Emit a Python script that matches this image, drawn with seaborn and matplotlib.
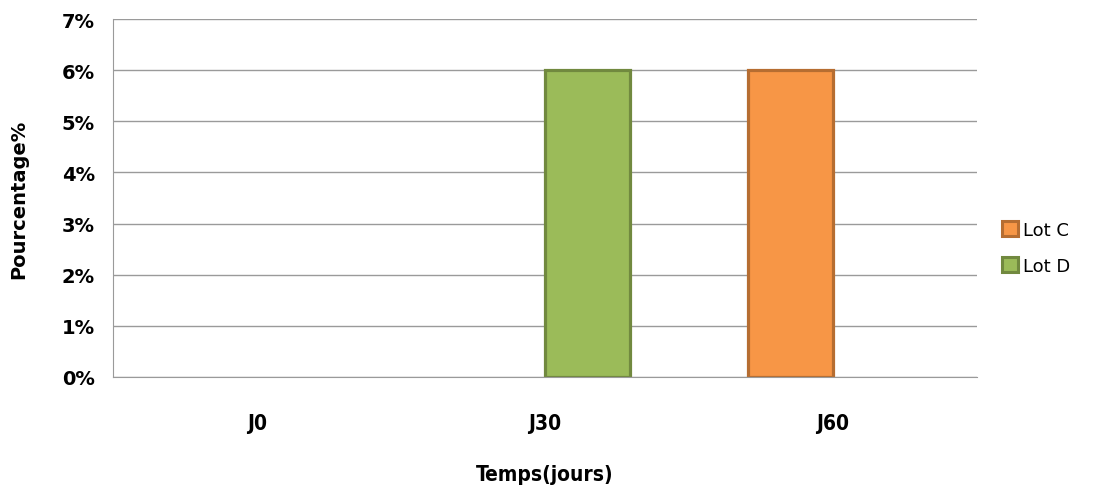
import pandas as pd
import matplotlib.pyplot as plt
import seaborn as sns
from matplotlib.ticker import FuncFormatter
from matplotlib.patches import Patch

# Data
categories = ['J0', 'J30', 'J60']
lot_c = [0, 0, 6]
lot_d = [0, 6, 0]
series_names = ['Lot C', 'Lot D']

df = pd.DataFrame({
    'Temps': categories * 2,
    'Lot': [series_names[0]] * 3 + [series_names[1]] * 3,
    'Pourcentage': lot_c + lot_d,
})

fills = {'Lot C': '#F79646', 'Lot D': '#9BBB59'}
edges = {'Lot C': '#B66D31', 'Lot D': '#71893F'}

sns.set_style("white")
plt.rcParams['font.family'] = ['DejaVu Sans']
plt.rcParams['text.color'] = 'black'
plt.rcParams['axes.labelcolor'] = 'black'
plt.rcParams['xtick.color'] = 'black'
plt.rcParams['ytick.color'] = 'black'

fig = plt.figure(figsize=(10.99, 4.89), dpi=100)
ax = fig.add_axes([0.1028, 0.227, 0.786, 0.732])

sns.barplot(data=df, x='Temps', y='Pourcentage', hue='Lot', order=categories,
            hue_order=series_names, palette=fills, width=0.59, ax=ax,
            legend=False, saturation=1)

# borders per series, hide empty bars
for container, name in zip(ax.containers, series_names):
    for bar in container:
        if bar.get_height() == 0:
            bar.set_visible(False)
        else:
            bar.set_edgecolor(edges[name])
            bar.set_linewidth(2.3)

ax.set_ylim(0, 7)
ax.set_yticks(range(0, 8))
ax.yaxis.set_major_formatter(FuncFormatter(lambda v, p: f'{int(v)}%'))
ax.grid(axis='y', color='#9A9A9A', linewidth=1)
ax.set_axisbelow(True)

for s in ['top', 'right']:
    ax.spines[s].set_visible(False)
ax.spines['left'].set_color('#9A9A9A')
ax.spines['bottom'].set_color('#9A9A9A')
ax.tick_params(axis='y', length=8, color='#9A9A9A', width=1, pad=5)
ax.tick_params(axis='x', length=0, pad=26)

for lab in ax.get_yticklabels():
    lab.set_fontweight('bold')
    lab.set_fontsize(14)
for lab in ax.get_xticklabels():
    lab.set_fontweight('bold')
    lab.set_fontsize(15)
    lab.set_fontstretch('condensed')

ax.set_xlabel('Temps(jours)', fontsize=15, fontweight='bold', labelpad=22,
              fontstretch='condensed')
ax.set_ylabel('Pourcentage%', fontsize=14, fontweight='bold', labelpad=24)

handles = [Patch(facecolor=fills[n], edgecolor=edges[n], linewidth=2.2) for n in series_names]
ax.legend(handles, series_names, loc='center left', bbox_to_anchor=(1.01, 0.36),
          frameon=False, fontsize=13, handlelength=0.9, handleheight=0.9,
          handletextpad=0.3, labelspacing=1.0)

plt.savefig('out.png', dpi=100)
